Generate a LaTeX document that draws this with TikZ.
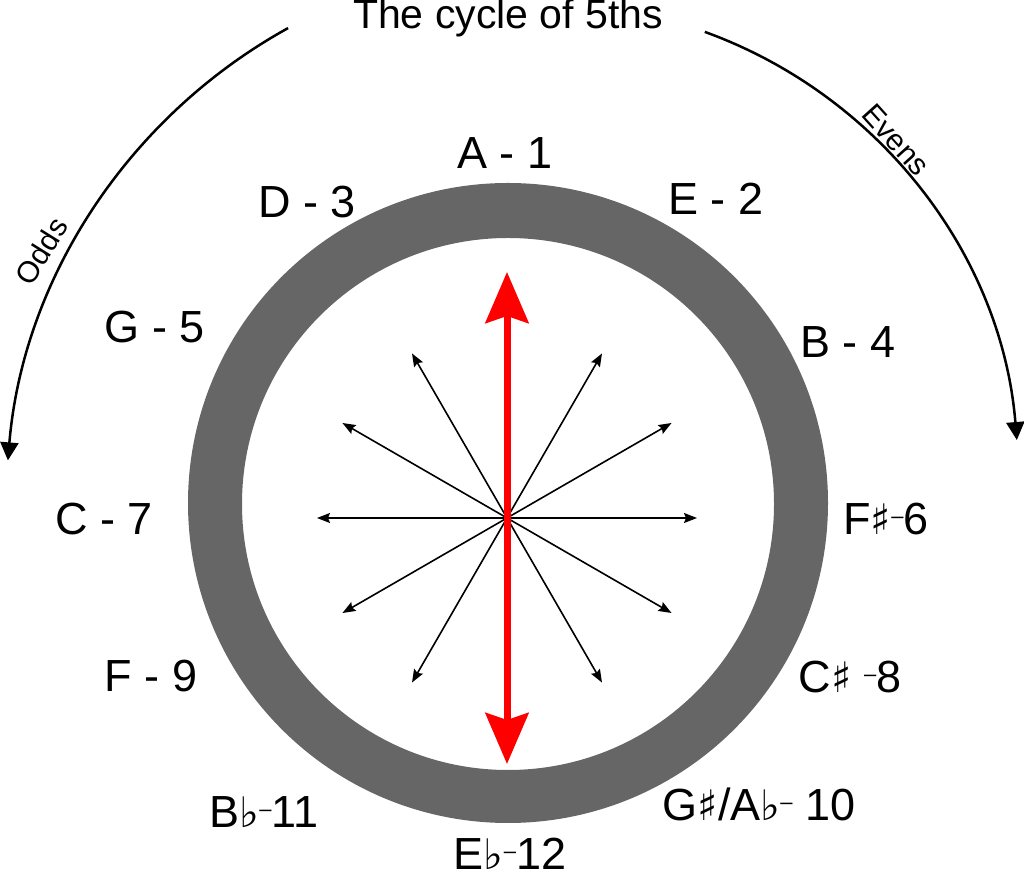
\documentclass[tikz,border=0pt]{standalone}
\usepackage{fontspec}
\setmainfont{Liberation Sans}
\newfontfamily\symf{DejaVu Sans}
\usetikzlibrary{arrows.meta}
\definecolor{ringgray}{RGB}{102,102,102}
\definecolor{arrowred}{RGB}{255,0,0}
\newcommand\msharp{{\symf\fontsize{42}{42}\selectfont ♯}}
\newcommand\mflat{{\symf\fontsize{42}{42}\selectfont ♭}}
\newcommand\mdash{\raisebox{11pt}{\fontsize{22}{22}\selectfont –}}
\begin{document}
\begin{tikzpicture}[x=1pt,y=1pt,
  lbl/.style={inner sep=0pt, anchor=base, font=\fontsize{45}{50}\selectfont},
  ttl/.style={inner sep=0pt, anchor=base, font=\fontsize{41}{46}\selectfont},
  arclbl/.style={inner sep=0pt, anchor=center, font=\fontsize{30}{34}\selectfont},
  spoke/.style={line width=1.6pt, -{Stealth[length=13pt,width=10pt,inset=2pt]}},
  redarrow/.style={draw=arrowred, line width=7pt, {Stealth[length=51pt,width=43pt,inset=7pt,fill=arrowred]}-{Stealth[length=51pt,width=43pt,inset=7pt,fill=arrowred]}},
  arcarrow/.style={line width=2.5pt, -{Triangle[length=18pt,width=18pt]}}]
\useasboundingbox (0,0) rectangle (1024,872);
% ring
\fill[ringgray, even odd rule] (508,369) circle[radius=320] (508,368) circle[radius=266];
% spokes
\coordinate (ctr) at (507,354);
\foreach \a in {0,30,60,120,150,180,210,240,300,330}{
  \path (ctr) ++(\a:190) coordinate (s\a);
  \draw[spoke] (ctr) -- (s\a);
}
% red arrow
\coordinate (rtop) at (507,600);
\coordinate (rbot) at (507,108);
\draw[redarrow] (rbot) -- (rtop);
% title
\node[ttl] (title) at (508,843) {The cycle of 5ths};
% arcs
\coordinate (oddsStart) at (288.1,843.9);
\draw[arcarrow] (oddsStart) arc[start angle=118.9, end angle=175.2, radius=546];
\coordinate (evensStart) at (704.8,840.1);
\draw[arcarrow] (evensStart) arc[start angle=70.1, end angle=4.7, radius=475.5];
\node[arclbl, rotate=58] (odds) at (41,621) {Odds};
\node[arclbl, rotate=-48] (evens) at (896,732) {Evens};
% labels
\node[lbl] (l1) at (505,703) {A - 1};
\node[lbl] (l2) at (716,657) {E - 2};
\node[lbl] (l3) at (307,654) {D - 3};
\node[lbl] (l4) at (848,514) {B - 4};
\node[lbl] (l5) at (155,529) {G - 5};
\node[lbl] (l6) at (886,337) {F\msharp\mdash6};
\node[lbl] (l7) at (104,337) {C - 7};
\node[lbl] (l8) at (850,179) {C\msharp\ \mdash8};
\node[lbl] (l9) at (151,180) {F - 9};
\node[lbl] (l10) at (759,52) {G\msharp/A\mflat\mdash\ 10};
\node[lbl] (l11) at (264,45) {B\mflat\mdash11};
\node[lbl] (l12) at (510,3) {E\mflat\mdash12};
\end{tikzpicture}
\end{document}
